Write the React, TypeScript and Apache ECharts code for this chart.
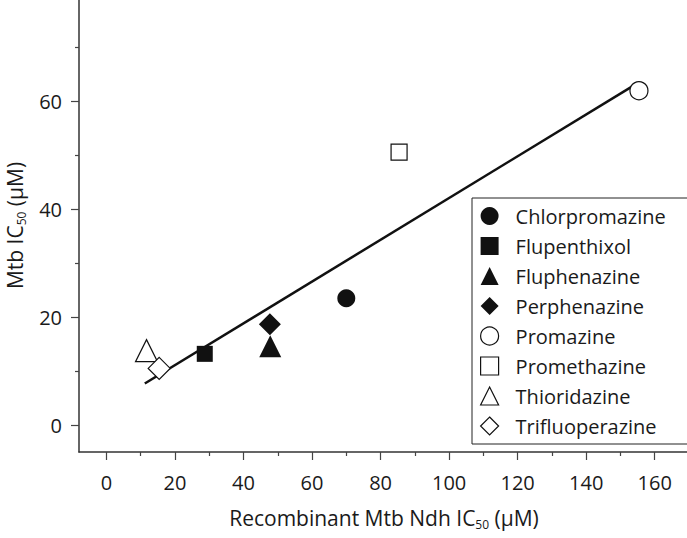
import React, { useEffect, useRef } from "react";
import * as echarts from "echarts";

const drugs = [
  "Chlorpromazine",
  "Flupenthixol",
  "Fluphenazine",
  "Perphenazine",
  "Promazine",
  "Promethazine",
  "Thioridazine",
  "Trifluoperazine",
];
const ndhIC50 = [70.0, 28.7, 47.8, 47.7, 155.4, 85.4, 11.7, 15.4];
const mtbIC50 = [23.5, 13.2, 14.6, 18.7, 62.0, 50.6, 13.8, 10.5];
const symbols = ["circle", "rect", "triangle", "diamond", "circle", "rect", "triangle", "diamond"];
const filled = [true, true, true, true, false, false, false, false];
const symbolSizes = [18, 16, 22, 22, 18, 16, 22, 22];
const fitX = [11.2, 155.0];
const fitY = [7.7, 63.4];
const xTicks = [0, 20, 40, 60, 80, 100, 120, 140, 160];
const xMinorTicks = [10, 30, 50, 70, 90, 110, 130, 150];
const yTicks = [0, 20, 40, 60];
const yMinorTicks = [10, 30, 50, 70];

const FONT = "Open Sans";
const TXT = "#1a1a1a";

const X_MIN = -8;
const X_MAX = 170;
const Y_MIN = -5;
const Y_MAX = 79;

const titleRich = {
  n: { fontFamily: FONT, fontSize: 21, color: TXT, lineHeight: 24, verticalAlign: "middle" },
  sub: { fontFamily: FONT, fontSize: 12, color: TXT, lineHeight: 10, verticalAlign: "bottom" },
};

export default function App() {
  const ref = useRef<HTMLDivElement>(null);
  useEffect(() => {
    if (!ref.current) return;
    const chart = echarts.init(ref.current, null, { renderer: "svg" });
    const scatterSeries = drugs.map((name, i) => ({
      type: "scatter",
      name,
      data: [[ndhIC50[i], mtbIC50[i]]],
      symbol: symbols[i],
      symbolSize: symbolSizes[i],
      z: 3,
      itemStyle: filled[i]
        ? { color: "#111", borderColor: "#111", borderWidth: 0, opacity: 1 }
        : { color: "#fff", borderColor: "#111", borderWidth: 1.2, opacity: 1 },
    }));
    const minorX = {
      type: "value",
      min: X_MIN,
      max: X_MAX,
      position: "bottom",
      axisLine: { show: false, onZero: false },
      axisTick: { show: true, length: 4, lineStyle: { color: "#444", width: 1.2 }, customValues: xMinorTicks },
      axisLabel: { show: false },
      splitLine: { show: false },
    };
    const minorY = {
      type: "value",
      min: Y_MIN,
      max: Y_MAX,
      position: "left",
      axisLine: { show: false, onZero: false },
      axisTick: { show: true, length: 4, lineStyle: { color: "#444", width: 1.2 }, customValues: yMinorTicks },
      axisLabel: { show: false },
      splitLine: { show: false },
    };
    chart.setOption({
      animation: false,
      textStyle: { fontFamily: FONT },
      grid: { left: 79, right: -2, top: -1, bottom: 86, containLabel: false, outerBoundsMode: "none" },
      xAxis: [
        {
          type: "value",
          min: X_MIN,
          max: X_MAX,
          position: "bottom",
          name: "{n|Recombinant Mtb Ndh IC}{sub|50}{n| (μM)}",
          nameLocation: "middle",
          nameGap: 54,
          nameTextStyle: { fontFamily: FONT, fontSize: 21, color: TXT, rich: titleRich },
          axisLine: { show: true, onZero: false, lineStyle: { color: "#333", width: 1.5 } },
          axisTick: { show: true, inside: false, length: 8, lineStyle: { color: "#444", width: 1.2 }, customValues: xTicks },
          axisLabel: {
            fontFamily: FONT,
            fontSize: 20,
            color: TXT,
            margin: 20,
            customValues: xTicks,
          },
          splitLine: { show: false },
        },
        minorX,
      ],
      yAxis: [
        {
          type: "value",
          min: Y_MIN,
          max: Y_MAX,
          position: "left",
          name: "{n|Mtb IC}{sub|50}{n| (μM)}",
          nameLocation: "middle",
          nameRotate: 90,
          nameGap: 52,
          nameTextStyle: { fontFamily: FONT, fontSize: 21, color: TXT, rich: titleRich },
          axisLine: { show: true, onZero: false, lineStyle: { color: "#333", width: 1.5 } },
          axisTick: { show: true, inside: false, length: 8, lineStyle: { color: "#444", width: 1.2 }, customValues: yTicks },
          axisLabel: {
            fontFamily: FONT,
            fontSize: 20,
            color: TXT,
            margin: 17,
            customValues: yTicks,
          },
          splitLine: { show: false },
        },
        minorY,
      ],
      legend: {
        orient: "vertical",
        left: 472,
        top: 198,
        padding: [8, 22, 8, 8],
        itemWidth: 18,
        itemHeight: 18,
        itemGap: 10,
        borderColor: "#222",
        borderWidth: 1,
        backgroundColor: "#fff",
        textStyle: { fontFamily: FONT, fontSize: 20, color: TXT, padding: [0, 0, 0, 12] },
        data: drugs.map((name, i) => ({
          name,
          icon: symbols[i],
          itemStyle: filled[i]
            ? { color: "#111", borderWidth: 0, opacity: 1 }
            : { color: "#fff", borderColor: "#111", borderWidth: 1.2, opacity: 1 },
        })),
      },
      series: [
        {
          type: "line",
          name: "fit",
          data: fitX.map((x, i) => [x, fitY[i]]),
          symbol: "none",
          lineStyle: { color: "#111", width: 2.5 },
          z: 2,
        },
        ...scatterSeries,
      ],
    });
    return () => chart.dispose();
  }, []);
  return <div ref={ref} style={{ width: 687, height: 538, position: "absolute", left: 0, top: 0 }} />;
}
